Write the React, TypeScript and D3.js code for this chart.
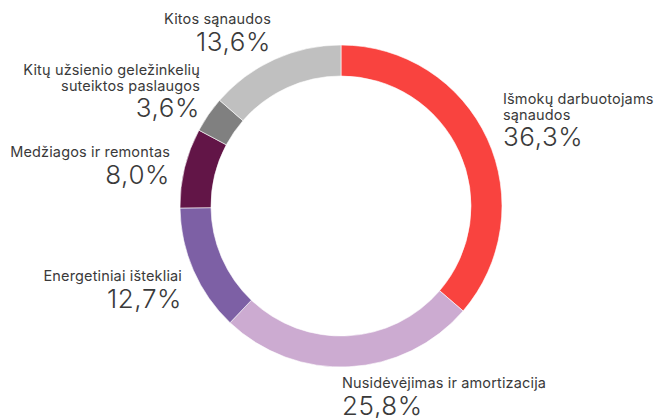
import React, { useMemo } from "react";
import * as d3 from "d3";

const categories = [
  "Išmokų darbuotojams sąnaudos",
  "Nusidėvėjimas ir amortizacija",
  "Energetiniai ištekliai",
  "Medžiagos ir remontas",
  "Kitų užsienio geležinkelių suteiktos paslaugos",
  "Kitos sąnaudos",
];
const values = [36.3, 25.8, 12.7, 8.0, 3.6, 13.6];
const valueLabels = ["36,3%", "25,8%", "12,7%", "8,0%", "3,6%", "13,6%"];
const labelLines = [
  ["Išmokų darbuotojams", "sąnaudos"],
  ["Nusidėvėjimas ir amortizacija"],
  ["Energetiniai ištekliai"],
  ["Medžiagos ir remontas"],
  ["Kitų užsienio geležinkelių", "suteiktos paslaugos"],
  ["Kitos sąnaudos"],
];
const colors = ["#F9433F", "#CCABD1", "#7D60A5", "#621547", "#808080", "#C0C0C0"];

// label layout: x, baseline of first line, anchor
const labelLayout = [
  { x: 503, y: 104, anchor: "start" },
  { x: 342, y: 388, anchor: "start" },
  { x: 182, y: 281, anchor: "end" },
  { x: 170, y: 157, anchor: "end" },
  { x: 200, y: 75, anchor: "end" },
  { x: 271, y: 24, anchor: "end" },
];

const W = 656;
const H = 418;
const CX = 341;
const CY = 206;
const R_OUT = 161;
const R_IN = 130;

export default function App() {
  const arcs = useMemo(() => {
    const pie = d3
      .pie<number>()
      .sort(null)
      .value((d) => d)
      .startAngle(0)
      .endAngle(2 * Math.PI);
    return pie(values);
  }, []);
  const arcGen = d3.arc<d3.PieArcDatum<number>>().innerRadius(R_IN).outerRadius(R_OUT);

  return (
    <svg
      width={W}
      height={H}
      style={{ position: "absolute", left: 0, top: 0, fontFamily: "Inter, 'Noto Sans', sans-serif" }}
    >
      <rect width={W} height={H} fill="#ffffff" />
      <g transform={`translate(${CX},${CY})`}>
        {arcs.map((a, i) => (
          <path key={i} d={arcGen(a) || ""} fill={colors[i]} stroke="#ffffff" strokeWidth={0.6} />
        ))}
      </g>
      {categories.map((c, i) => {
        const L = labelLayout[i];
        const lines = labelLines[i];
        const lh = 15.5;
        return (
          <g key={c} fill="#3a3a3a" textAnchor={L.anchor as any}>
            {lines.map((ln, j) => (
              <text key={j} x={L.x} y={L.y + j * lh} fontSize={14.5} fontWeight={400} letterSpacing={0.15}>
                {ln}
              </text>
            ))}
            <text
              x={L.x}
              y={L.y + (lines.length - 1) * lh + 26.5}
              fontSize={26}
              fontWeight={300}
              letterSpacing={0.6}
            >
              {valueLabels[i]}
            </text>
          </g>
        );
      })}
    </svg>
  );
}
